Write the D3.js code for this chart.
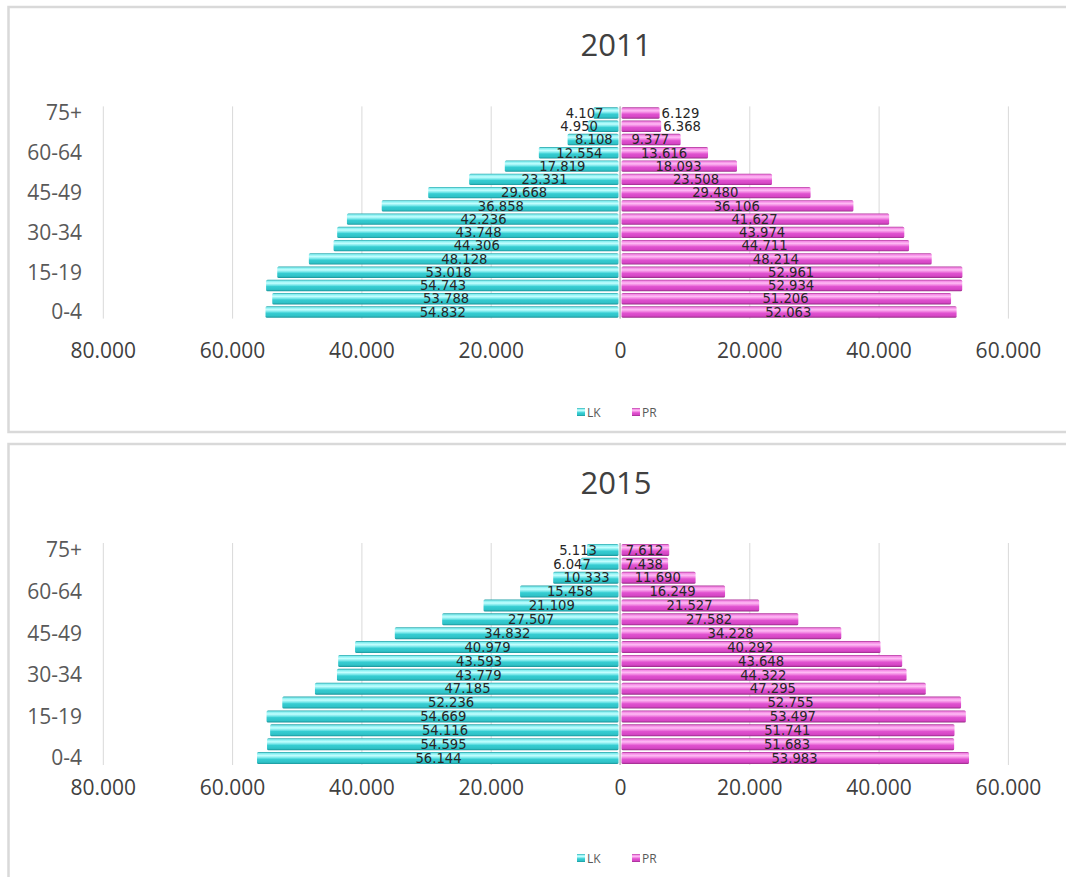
<!DOCTYPE html>
<html>
<head>
<meta charset="utf-8">
<script src="https://cdn.jsdelivr.net/npm/d3@7"></script>
<style>
  html, body { margin: 0; padding: 0; background: #fff; }
  svg { display: block; }
</style>
</head>
<body>
<svg id="chart" width="1066" height="877"></svg>
<script>
// Age groups, youngest first
const ageGroups = ["0-4","5-9","10-14","15-19","20-24","25-29","30-34","35-39",
                   "40-44","45-49","50-54","55-59","60-64","65-69","70-74","75+"];
const shownAgeLabels = ["0-4","15-19","30-34","45-49","60-64","75+"];

// Population by age group, 2011
const lk2011 = [54832, 53788, 54743, 53018, 48128, 44306, 43748, 42236,
                36858, 29668, 23331, 17819, 12554, 8108, 4950, 4107];
const pr2011 = [52063, 51206, 52934, 52961, 48214, 44711, 43974, 41627,
                36106, 29480, 23508, 18093, 13616, 9377, 6368, 6129];

// Population by age group, 2015
const lk2015 = [56144, 54595, 54116, 54669, 52236, 47185, 43779, 43593,
                40979, 34832, 27507, 21109, 15458, 10333, 6047, 5113];
const pr2015 = [53983, 51683, 51741, 53497, 52755, 47295, 44322, 43648,
                40292, 34228, 27582, 21527, 16249, 11690, 7438, 7612];

const seriesNames = ["LK", "PR"];
const xTicks = [-80000, -60000, -40000, -20000, 0, 20000, 40000, 60000];

const locale = d3.formatLocale({ decimal: ",", thousands: ".", grouping: [3], currency: ["", ""] });
const fmt = locale.format(",d");

const svg = d3.select("#chart");
const defs = svg.append("defs");

// Cylinder-like shading for the bars
function barGradient(id, stops) {
  const g = defs.append("linearGradient").attr("id", id)
    .attr("x1", 0).attr("y1", 0).attr("x2", 0).attr("y2", 1);
  stops.forEach(([o, c]) => g.append("stop").attr("offset", o).attr("stop-color", c));
}
barGradient("gradLK", [[0, "#24a2a7"], [0.12, "#86eef0"], [0.3, "#c4ffff"], [0.48, "#74e6e9"],
                       [0.6, "#36cdd2"], [0.85, "#2fc2c7"], [1, "#1a9499"]]);
barGradient("gradPR", [[0, "#ad3399"], [0.12, "#f388e4"], [0.3, "#ffbcf5"], [0.48, "#f07fe0"],
                       [0.6, "#e052d0"], [0.85, "#d545c4"], [1, "#962a86"]]);
const fills = { LK: "url(#gradLK)", PR: "url(#gradPR)" };

const x = d3.scaleLinear().domain([-80000, 60000]).range([102.8, 1007.9]);

const panels = [
  { year: "2011", lk: lk2011, pr: pr2011, frameTop: 7, frameBottom: 432,
    plotTop: 106.4, plotBottom: 318.6, titleY: 56, tickY: 358, legendY: 412 },
  { year: "2015", lk: lk2015, pr: pr2015, frameTop: 444, frameBottom: 900,
    plotTop: 543, plotBottom: 765, titleY: 494, tickY: 795, legendY: 858 }
];

panels.forEach(p => {
  const g = svg.append("g");

  // chart frame
  g.append("rect")
    .attr("x", 8.5).attr("y", p.frameTop)
    .attr("width", 1080).attr("height", p.frameBottom - p.frameTop)
    .attr("fill", "#fff").attr("stroke", "#d9d9d9").attr("stroke-width", 2.5);

  // title
  g.append("text")
    .attr("x", 616).attr("y", p.titleY)
    .attr("text-anchor", "middle")
    .attr("font-family", "Open Sans, sans-serif").attr("font-size", 31)
    .attr("fill", "#404040")
    .text(p.year);

  const y = d3.scaleBand().domain(ageGroups)
    .range([p.plotBottom, p.plotTop]).paddingInner(0.14).paddingOuter(0.07);

  // vertical gridlines
  const grid = g.append("g")
    .attr("transform", `translate(0,${p.plotBottom})`)
    .call(d3.axisBottom(x).tickValues(xTicks).tickSize(-(p.plotBottom - p.plotTop)).tickFormat(""));
  grid.select(".domain").remove();
  grid.selectAll("line").attr("stroke", "#d9d9d9").attr("stroke-width", 1);

  // value axis labels (absolute values)
  const xa = g.append("g")
    .attr("transform", `translate(0,${p.tickY})`)
    .call(d3.axisBottom(x).tickValues(xTicks).tickSize(0).tickPadding(0)
      .tickFormat(d => fmt(Math.abs(d))));
  xa.select(".domain").remove();
  xa.selectAll("text")
    .attr("dy", 0).attr("y", 0)
    .attr("font-family", "Open Sans, sans-serif").attr("font-size", 21)
    .attr("fill", "#404040");

  // age group labels
  const ya = g.append("g")
    .attr("transform", `translate(82,0)`)
    .call(d3.axisLeft(y).tickValues(shownAgeLabels).tickSize(0).tickPadding(0));
  ya.select(".domain").remove();
  ya.selectAll("text")
    .attr("font-family", "Open Sans, sans-serif").attr("font-size", 21)
    .attr("fill", "#595959").attr("dy", "0.35em");

  const rows = ageGroups.map((a, i) => ({ age: a, LK: p.lk[i], PR: p.pr[i] }));

  // bars: LK to the left of zero, PR to the right
  const barsG = g.append("g");
  seriesNames.forEach(s => {
    const sign = s === "LK" ? -1 : 1;
    barsG.selectAll(".bar-" + s).data(rows).join("rect")
      .attr("class", "bar-" + s)
      .attr("x", d => Math.min(x(0), x(sign * d[s])) + (s === "LK" ? 0 : 1.5))
      .attr("y", d => y(d.age))
      .attr("width", d => Math.abs(x(sign * d[s]) - x(0)) - 1.5)
      .attr("height", y.bandwidth())
      .attr("rx", 1.5)
      .attr("fill", fills[s]);
  });

  // category axis line at zero
  g.append("line")
    .attr("x1", x(0)).attr("x2", x(0))
    .attr("y1", p.plotTop).attr("y2", p.plotBottom)
    .attr("stroke", "#bfbfbf").attr("stroke-width", 1.5);

  // value labels: centred in the bar, or just outside it when too narrow
  const labelsG = g.append("g")
    .attr("font-family", "DejaVu Sans, sans-serif").attr("font-size", 13.2)
    .attr("fill", "#262626");
  seriesNames.forEach(s => {
    const sign = s === "LK" ? -1 : 1;
    labelsG.selectAll(".lab-" + s).data(rows).join("text")
      .attr("class", "lab-" + s)
      .attr("y", d => y(d.age) + y.bandwidth() / 2)
      .attr("dy", "0.36em")
      .text(d => fmt(d[s]))
      .each(function(d) {
        const w = this.getComputedTextLength();
        const len = Math.abs(x(sign * d[s]) - x(0));
        const t = d3.select(this);
        if (len < w + 4) {
          const end = x(sign * d[s]);
          if (s === "LK") t.attr("x", end + 10).attr("text-anchor", "end");
          else t.attr("x", end + 2).attr("text-anchor", "start");
        } else {
          t.attr("x", (x(0) + x(sign * d[s])) / 2).attr("text-anchor", "middle");
        }
      });
  });

  // legend
  const legend = g.append("g").attr("font-family", "Open Sans, sans-serif")
    .attr("font-size", 12).attr("fill", "#595959");
  const legendX = { LK: 577, PR: 632 };
  seriesNames.forEach(s => {
    legend.append("rect")
      .attr("x", legendX[s]).attr("y", p.legendY - 4)
      .attr("width", 8).attr("height", 8).attr("fill", fills[s]);
    legend.append("text")
      .attr("x", legendX[s] + 10).attr("y", p.legendY + 4.5)
      .text(s);
  });
});
</script>
</body>
</html>
